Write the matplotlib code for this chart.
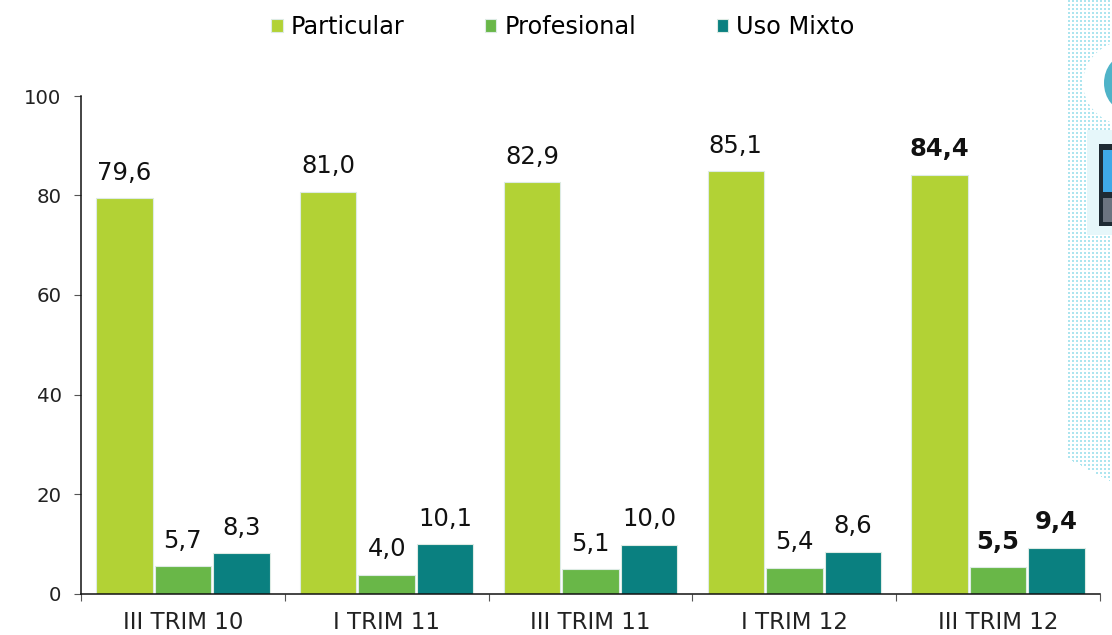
import numpy as np
import matplotlib
matplotlib.use("Agg")
import matplotlib.pyplot as plt
from matplotlib.patches import Rectangle, Ellipse

categories = ["III TRIM 10", "I TRIM 11", "III TRIM 11", "I TRIM 12", "III TRIM 12"]
particular = [79.6, 81.0, 82.9, 85.1, 84.4]
profesional = [5.7, 4.0, 5.1, 5.4, 5.5]
uso_mixto = [8.3, 10.1, 10.0, 8.6, 9.4]
series_names = ["Particular", "Profesional", "Uso Mixto"]
colors = ["#B2D235", "#69B748", "#0A8080"]
yticks = [0, 20, 40, 60, 80, 100]

W, H = 1112, 635
fig = plt.figure(figsize=(W / 100, H / 100), dpi=100, facecolor="white")

# decorative background, in pixel coordinates
deco = fig.add_axes([0, 0, 1, 1], zorder=0)
tex = np.ones((H, W, 4))
tex[..., 3] = 0.0
yy, xx = np.mgrid[0:H, 0:W]
dots = ((xx % 4 < 2) & (yy % 4 < 2))
mask = (xx >= 1067) & (yy <= 458 + (xx - 1067) * 0.53) & dots
tex[mask] = [0.68, 0.90, 0.94, 1.0]
deco.imshow(tex, extent=(0, W, H, 0), aspect="auto", interpolation="nearest")
deco.set_xlim(0, W)
deco.set_ylim(H, 0)
deco.axis("off")
deco.add_patch(Ellipse((1130, 83), 94, 86, fc="white", ec="none"))
deco.add_patch(Ellipse((1127, 83), 46, 56, fc="#4FB3C8", ec="none"))
deco.add_patch(Rectangle((1087, 130), 30, 105, fc="#E6F7FA", ec="none"))
deco.add_patch(Rectangle((1099, 144), 15, 82, fc="#1E2A33", ec="none"))
deco.add_patch(Rectangle((1103, 150), 10, 42, fc="#3FA9E8", ec="none"))
deco.add_patch(Rectangle((1103, 198), 10, 24, fc="#6B7480", ec="none"))

ax = fig.add_axes([81 / W, 1 - 593.5 / H, (1100 - 81) / W, (593.5 - 96) / H], zorder=1)
ax.patch.set_alpha(0)
x = np.arange(len(categories))
step = 0.287
bw = 0.277
series = [particular, profesional, uso_mixto]
for i, (vals, name, c) in enumerate(zip(series, series_names, colors)):
    pos = x + (i - 1) * step
    ax.bar(pos, np.array(vals) - 0.2, bw, color=c, edgecolor="#DDEBE4", linewidth=0.8, label=name)
    for j, (p, v) in enumerate(zip(pos, vals)):
        last = j == len(categories) - 1
        ax.annotate(f"{v:.1f}".replace(".", ","), (p, v), xytext=(0, 9), textcoords="offset points",
                    ha="center", va="bottom", fontsize=17.5,
                    fontweight="bold" if last else "normal", color="#111111")

ax.set_xlim(-0.5, len(categories) - 0.5)
ax.set_ylim(0, 100)
ax.set_yticks(yticks)
ax.set_xticks(x, categories)
ax.set_xticks(np.arange(-0.5, len(categories)), minor=True)
ax.tick_params(axis="x", which="major", length=0, labelsize=16.5, pad=12.5, colors="#222222")
ax.tick_params(axis="x", which="minor", length=5, width=0.8, color="#555555", direction="out")
ax.tick_params(axis="y", length=5, width=0.8, color="#555555", labelsize=14.2, pad=9, labelcolor="#222222")
for s in ("top", "right"):
    ax.spines[s].set_visible(False)
for s in ("left", "bottom"):
    ax.spines[s].set_color("#111111")
    ax.spines[s].set_linewidth(1.1)

fig.legend(*ax.get_legend_handles_labels(), loc="center", bbox_to_anchor=(563 / W, 1 - 27 / H), ncol=3,
           frameon=False, fontsize=17.3, handlelength=0.47, handleheight=0.47, handletextpad=0.34,
           columnspacing=3.35)
fig.savefig("out.png", dpi=100)
